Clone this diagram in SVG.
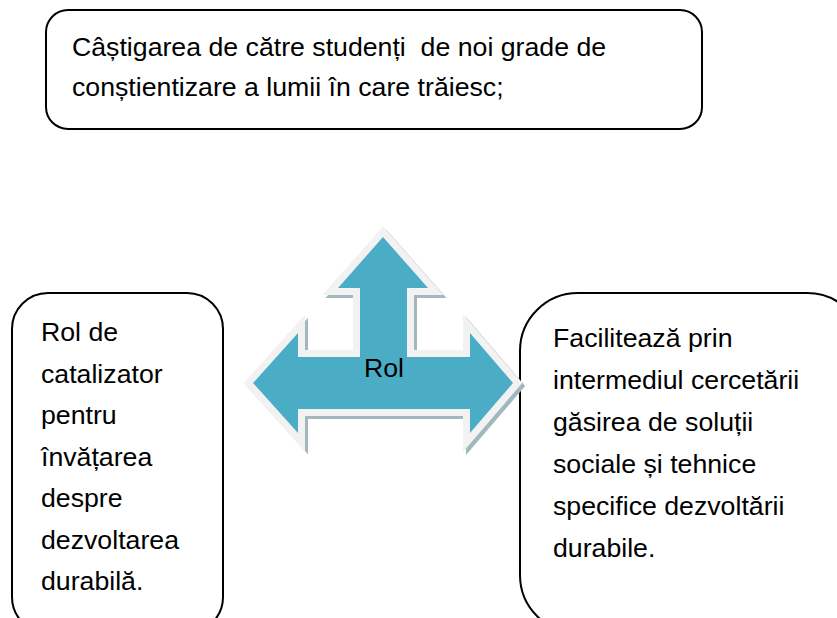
<svg xmlns="http://www.w3.org/2000/svg" width="837" height="618" viewBox="0 0 837 618">
<style>
.box{fill:#fff;stroke:#000;stroke-width:2}
.t{font-family:"Liberation Sans",Arial,sans-serif;font-size:26.7px;fill:#000}
</style>
<rect width="837" height="618" fill="#fff"/>
<g id="top-node">
<rect class="box" x="46" y="10" width="656" height="119" rx="22"/>
<text class="t" x="72" y="56" xml:space="preserve">Câștigarea de către studenți  de noi grade de</text>
<text class="t" x="72" y="96">conștientizare a lumii în care trăiesc;</text>
</g>
<g id="left-node">
<rect class="box" x="12" y="293" width="211" height="340" rx="36"/>
<text class="t" x="41"><tspan x="41" y="341">Rol de</tspan><tspan x="41" y="382.5">catalizator</tspan><tspan x="41" y="424">pentru</tspan><tspan x="41" y="465.5">învățarea</tspan><tspan x="41" y="507">despre</tspan><tspan x="41" y="548.5">dezvoltarea</tspan><tspan x="41" y="590">durabilă.</tspan></text>
</g>
<g id="right-node">
<rect class="box" x="520" y="293" width="345" height="340" rx="58"/>
<text class="t"><tspan x="553" y="347">Facilitează prin</tspan><tspan x="553" y="389">intermediul cercetării</tspan><tspan x="553" y="431">găsirea de soluții</tspan><tspan x="553" y="473">sociale și tehnice</tspan><tspan x="553" y="515">specifice dezvoltării</tspan><tspan x="553" y="557">durabile.</tspan></text>
</g>
<g id="center-arrow">
<defs>
<polygon id="arr" points="383,237 428,288 407,288 407,357 470,357 470,333 513,383 470,433 470,409 298,409 298,433 253,383 298,333 298,357 360,357 360,288 338,288"/>
</defs>
<use href="#arr" transform="translate(3,3)" fill="#a3b7be" stroke="#a3b7be" stroke-width="14" stroke-linejoin="miter"/>
<use href="#arr" fill="#f2f2f2" stroke="#f2f2f2" stroke-width="14" stroke-linejoin="miter"/>
<use href="#arr" fill="#4bacc6"/>
<text class="t" x="384" y="377" text-anchor="middle">Rol</text>
</g>
</svg>
